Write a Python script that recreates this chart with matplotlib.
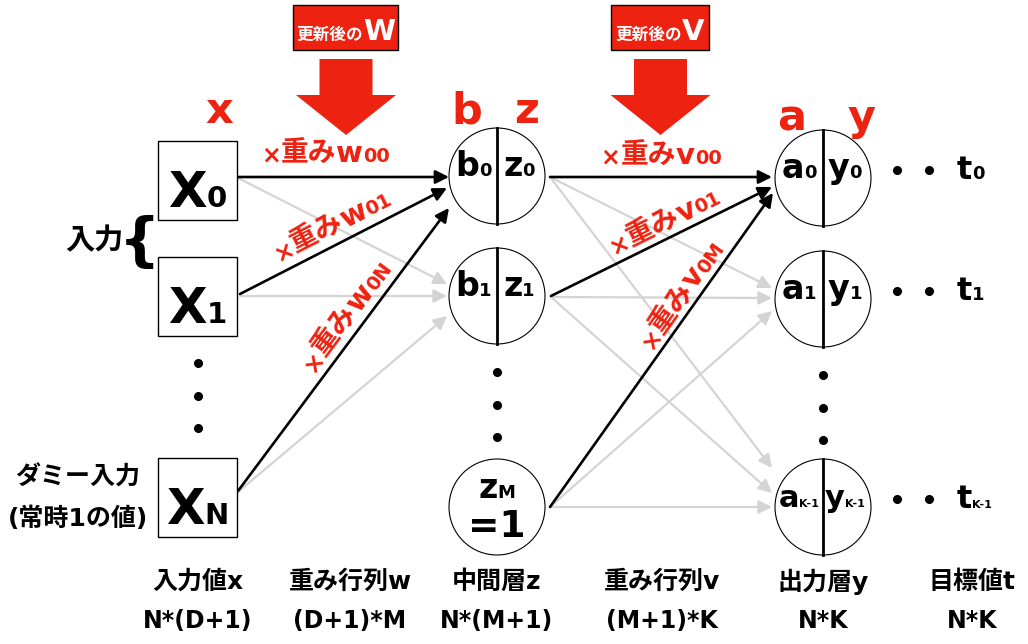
import numpy as np
import matplotlib
matplotlib.use("Agg")
import matplotlib.pyplot as plt
from matplotlib.patches import Circle, Rectangle, FancyArrow
from matplotlib.font_manager import FontProperties

FAMILY = ['DejaVu Sans', 'Noto Sans CJK JP']
plt.rcParams['font.family'] = FAMILY

RED = '#ee2211'
GRAY = '#d4d4d4'

# labels
input_names = [('X', '0'), ('X', '1'), ('X', 'N')]
hidden_names = [('b', '0', 'z', '0'), ('b', '1', 'z', '1')]
bias_name = ('z', 'M', '=1')
output_names = [('a', '0', 'y', '0'), ('a', '1', 'y', '1'), ('a', 'K-1', 'y', 'K-1')]
target_names = [('t', '0'), ('t', '1'), ('t', 'K-1')]
layer_letters = ['x', 'b', 'z', 'a', 'y']
bottom_titles = ['入力値x', '重み行列w', '中間層z', '重み行列v', '出力層y', '目標値t']
bottom_dims = ['N*(D+1)', '(D+1)*M', 'N*(M+1)', '(M+1)*K', 'N*K', 'N*K']
w_labels = [('重み', 'w', '00'), ('重み', 'w', '01'), ('重み', 'w', '0N')]
v_labels = [('重み', 'v', '00'), ('重み', 'v', '01'), ('重み', 'v', '0M')]
update_labels = [('更新後の', 'W'), ('更新後の', 'V')]

# layout (pixels)
in_x, in_ys, half = 197.5, [180, 296, 497], 39.5
hid_x, hid_ys = 497, [176, 296, 507]
out_x, out_ys = 823, [178, 299, 507]
R = 48

fig = plt.figure(figsize=(10.28, 6.44), dpi=100)
ax = fig.add_axes([0, 0, 1, 1])
ax.set_xlim(0, 1028)
ax.set_ylim(644, 0)
ax.axis('off')
renderer = fig.canvas.get_renderer()


def width(s, size):
    fp = FontProperties(family=FAMILY, size=size, weight='bold')
    w, h, d = renderer.get_text_width_height_descent(s, fp, ismath=False)
    return w


def rich(x, y, parts, angle=0, color='black', ha='left', zorder=5):
    a = np.radians(angle)
    ws = [width(s, size) for s, size in parts]
    shift = {'left': 0, 'center': sum(ws) / 2, 'right': sum(ws)}[ha]
    x -= shift * np.cos(a)
    y += shift * np.sin(a)
    for (s, size), w in zip(parts, ws):
        ax.text(x, y, s, fontsize=size, fontweight='bold', color=color,
                rotation=angle, rotation_mode='anchor', ha='left',
                va='baseline', zorder=zorder)
        x += w * np.cos(a)
        y -= w * np.sin(a)


def arrow(p0, p1, color, lw):
    ax.annotate('', xy=p1, xytext=p0,
                arrowprops=dict(arrowstyle='-|>', color=color, lw=lw,
                                mutation_scale=20, shrinkA=0, shrinkB=0),
                zorder=3 if color == 'black' else 2)


# gray connections
gray_links = [((238, 178), (447, 284)), ((240, 296), (447, 296)), ((238, 492), (447, 316)),
              ((550, 177), (772, 288)), ((550, 177), (772, 468)),
              ((551, 297), (772, 298)), ((551, 297), (772, 493)),
              ((550, 507), (772, 311)), ((550, 507), (772, 507))]
for p0, p1 in gray_links:
    arrow(p0, p1, GRAY, 1.6)

black_links = [((238, 177), (449, 177)), ((240, 294), (447, 188)), ((238, 491), (449, 208)),
               ((550, 177), (772, 177)), ((551, 296), (772, 187)), ((550, 507), (773, 193))]
for p0, p1 in black_links:
    arrow(p0, p1, 'black', 1.9)

# input boxes
for (m, s), y in zip(input_names, in_ys):
    ax.add_patch(Rectangle((in_x - half, y - half), 2 * half, 2 * half,
                           fc='white', ec='black', lw=1, zorder=4))
    rich(in_x, y + 27, [(m, 36), (s, 21)], ha='center')


# hidden / output circles
def node(cx, cy, left, right):
    ax.add_patch(Circle((cx, cy), R, fc='white', ec='black', lw=0.8, zorder=4))
    ax.plot([cx, cx], [cy - R, cy + R], color='black', lw=2, zorder=5)
    if len(left[1]) == 1:
        big, small = 24, 13
    else:
        big, small = 22, 8
    rich(cx - 24, cy, [(left[0], big), (left[1], small)], ha='center')
    rich(cx + 22, cy, [(right[0], big), (right[1], small)], ha='center')


for (b, bs, z, zs), y in zip(hidden_names, hid_ys):
    node(hid_x, y, (b, bs), (z, zs))
for (a, as_, yy, ys), y in zip(output_names, out_ys):
    node(out_x, y, (a, as_), (yy, ys))

ax.add_patch(Circle((hid_x, hid_ys[2]), R, fc='white', ec='black', lw=0.8, zorder=4))
rich(hid_x, hid_ys[2] - 9, [(bias_name[0], 24), (bias_name[1], 13)], ha='center')
rich(hid_x, hid_ys[2] + 30, [(bias_name[2], 27)], ha='center')

# vertical ellipsis dots
for x, ys in [(in_x, [363, 396, 428]), (hid_x, [372, 405, 437]), (out_x, [375, 408, 440])]:
    ax.plot([x] * 3, ys, 'o', color='black', ms=5.5, zorder=5)

# targets
for (t, ts), y in zip(target_names, out_ys):
    ax.plot([897, 929], [y - 8, y - 8], 'o', color='black', ms=5.5, zorder=5)
    rich(957, y + 1, [(t, 23), (ts, 13 if len(ts) == 1 else 8)])

# red layer letters
for s, x, y in zip(layer_letters, [219, 467, 527, 792, 862], [123, 123, 123, 130, 130]):
    ax.text(x, y, s, fontsize=31, fontweight='bold', color=RED,
            ha='center', va='baseline')

# update boxes and big arrows
for (jp, letter), bx in zip(update_labels, [345.5, 660]):
    bw = 105 if letter == 'W' else 98
    ax.add_patch(Rectangle((bx - bw / 2, 5), bw, 45, fc=RED, ec='black', lw=1, zorder=4))
    rich(bx, 40, [(jp, 12), (letter, 21)], color='white', ha='center')
    ax.add_patch(FancyArrow(bx + 0.5, 59, 0, 76, width=53, head_width=100, head_length=40,
                            length_includes_head=True, fc=RED, ec='none', zorder=4))

# weight labels
w_pos = [(325, 162, 0), (336, 233, 27.1), (353, 321, 53.3)]
v_pos = [(661, 164, 0), (668, 229, 26.3), (688, 300, 54.6)]
for (jp, letter, sub), (x, y, ang) in zip(w_labels + v_labels, w_pos + v_pos):
    rich(x, y, [('×', 17), (jp, 20), (letter, 21), (sub, 14)],
         angle=ang, color=RED, ha='center', zorder=6)

# left notes
ax.text(94, 241, '入力', fontsize=21, fontweight='bold', ha='center', va='center')
ax.text(140, 243, '{', fontsize=42, fontweight='bold', ha='center', va='center')
ax.text(78, 478, 'ダミー入力', fontsize=18, fontweight='bold', ha='center', va='center')
ax.text(78, 519, '(常時1の値)', fontsize=18, fontweight='bold', ha='center', va='center')

# bottom captions
for title, dim, x in zip(bottom_titles, bottom_dims, [198, 350, 497, 662, 823, 972]):
    ax.text(x, 582, title, fontsize=18, fontweight='bold', ha='center', va='center')
    ax.text(x, 621, dim, fontsize=17, fontweight='bold', ha='center', va='center')

fig.savefig('out.png', dpi=100)
